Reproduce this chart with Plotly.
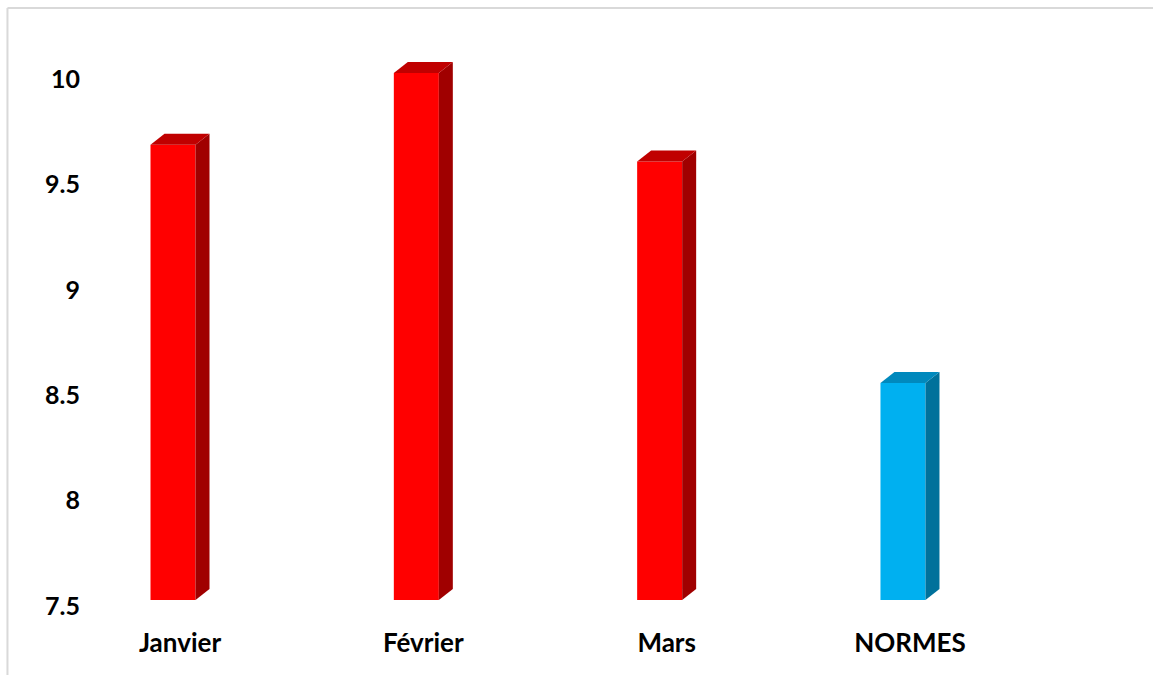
import plotly.graph_objects as go

# ---- data ----
months = ["Janvier", "Février", "Mars", "NORMES"]
values = [9.66, 10.0, 9.58, 8.53]
y_ticks = [7.5, 8, 8.5, 9, 9.5, 10]
y_tick_labels = ["7.5", "8", "8.5", "9", "9.5", "10"]

# ---- styling ----
front_colors = ["#FF0000", "#FF0000", "#FF0000", "#00B0F0"]
top_colors = ["#C00000", "#C00000", "#C00000", "#0089BD"]
side_colors = ["#A00000", "#A00000", "#A00000", "#00719B"]

y_min, y_max = 7.5, 10.157
x_min, x_max = -0.3206, 3.8097
bar_w = 0.185      # front face width (x units)
dx = 0.0575        # depth offset (x units)
dy = 0.0522        # depth offset (y units)

xs = list(range(len(months)))

fig = go.Figure()

fig.add_trace(go.Bar(
    x=xs, y=values, width=bar_w,
    marker=dict(color=front_colors, line=dict(width=0)),
    showlegend=False, hoverinfo="skip",
))

for i, v in enumerate(values):
    xr = i + bar_w / 2
    xl = i - bar_w / 2
    # side face
    fig.add_trace(go.Scatter(
        x=[xr, xr + dx, xr + dx, xr, xr],
        y=[y_min, y_min + dy, v + dy, v, y_min],
        fill="toself", fillcolor=side_colors[i], mode="lines",
        line=dict(width=0, color=side_colors[i]),
        showlegend=False, hoverinfo="skip",
    ))
    # top face
    fig.add_trace(go.Scatter(
        x=[xl, xr, xr + dx, xl + dx, xl],
        y=[v, v, v + dy, v + dy, v],
        fill="toself", fillcolor=top_colors[i], mode="lines",
        line=dict(width=0, color=top_colors[i]),
        showlegend=False, hoverinfo="skip",
    ))

xfont = dict(family="Lato", size=26, color="#000000", weight="bold")
yfont = dict(family="Lato", size=25, color="#000000", weight="bold")

fig.update_layout(
    width=1153, height=675,
    margin=dict(l=95, r=53, t=40, b=75),
    paper_bgcolor="white", plot_bgcolor="white",
    font=xfont,
    xaxis=dict(
        range=[x_min, x_max],
        tickvals=[i + dx / 2 for i in xs], ticktext=months,
        showgrid=False, zeroline=False, showline=False,
        ticks="outside", ticklen=20, tickcolor="rgba(0,0,0,0)",
        tickfont=xfont, fixedrange=True,
    ),
    yaxis=dict(
        range=[y_min, y_max],
        tickvals=y_ticks, ticktext=y_tick_labels,
        showgrid=False, zeroline=False, showline=False,
        ticks="outside", ticklen=9, tickcolor="rgba(0,0,0,0)",
        tickfont=yfont, ticklabelshift=6, fixedrange=True,
    ),
    shapes=[
        dict(type="line", xref="paper", yref="paper",
             x0=-0.0871, x1=1.2, y0=1.0571, y1=1.0571,
             line=dict(color="#D9D9D9", width=2)),
        dict(type="line", xref="paper", yref="paper",
             x0=-0.0871, x1=-0.0871, y0=1.0571, y1=-0.2,
             line=dict(color="#D9D9D9", width=2)),
    ],
)

fig.write_html("out.html")
